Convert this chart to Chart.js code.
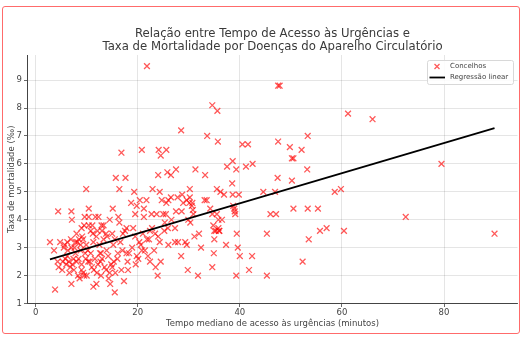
<!DOCTYPE html>
<html>
<head>
<meta charset="utf-8">
<script src="https://cdn.jsdelivr.net/npm/chart.js@4.4.1/dist/chart.umd.min.js"></script>
<style>
  html, body { margin: 0; padding: 0; background: #fff; }
  #wrap { position: relative; width: 525px; height: 337px; }
  #frame { position: absolute; left: 2px; top: 5.5px; width: 518px; height: 328px; box-sizing: border-box;
           border: 1.5px solid #ff6b6b; border-radius: 3px; pointer-events: none; }
</style>
</head>
<body>
<div id="wrap">
  <canvas id="chart" width="525" height="337"></canvas>
  <div id="frame"></div>
</div>
<script>
    // Tempo mediano de acesso (min) e taxa de mortalidade (‰) por concelho
    const tempo = [
        2.8, 3.6, 3.8, 4.4, 4.3, 4.8, 4.5, 5.3, 5.5, 5.2, 6.2, 7.0, 7.1, 7.0, 6.2, 6.5, 6.8, 7.4, 7.8, 8.15,
        8.5, 9.1, 9.3, 9.5, 9.6, 9.7, 9.5, 8.6, 9.0, 10.4, 10.4, 10.4, 10.3, 10.6, 10.8, 11.2, 11.1, 11.4, 11.3, 11.9,
        11.7, 12.3, 12.1, 12.6, 12.8, 12.7, 12.8, 12.9, 13.3, 13.3, 13.5, 13.8, 13.9, 14.3, 14.5, 14.5, 14.6, 15.1, 15.0, 15.2,
        15.3, 15.5, 15.6, 16.2, 16.4, 16.1, 17.1, 17.3, 17.8, 17.8, 18.0, 18.1, 18.3, 18.7, 19.1, 19.5, 19.6, 19.8, 19.8, 20.1,
        20.3, 20.6, 21.0, 21.2, 21.2, 21.4, 21.8, 22.2, 22.4, 22.7, 22.4, 22.8, 23.2, 23.4, 23.5, 23.7, 23.9, 24.0, 24.3, 24.5,
        25.0, 25.2, 25.3, 25.6, 25.9, 26.0, 26.6, 27.3, 27.3, 27.5, 27.9, 28.5, 28.6, 28.9, 29.3, 29.6, 29.8, 29.9, 30.1, 30.3,
        30.6, 30.9, 31.1, 31.8, 32.0, 32.4, 33.1, 33.5, 34.2, 34.6, 34.6, 34.9, 34.8, 35.0, 35.0, 35.5, 35.8, 35.8, 36.0, 36.5,
        37.3, 38.7, 38.9, 39.0, 39.3, 39.4, 39.6, 40.0, 41.8, 42.4, 45.3, 45.3, 46.0, 47.1, 50.5, 52.3, 53.3, 53.5, 55.3, 55.7,
        57.0, 60.4, 72.5, 89.9, 39.1, 35.3, 35.9,
        5.8, 6.0, 6.3, 6.6, 7.2, 7.5, 7.8, 8.0, 8.3, 8.4, 8.8, 9.0, 9.3, 9.8, 10.0, 10.2, 11.0, 11.6, 12.0, 12.2,
        13.0, 13.8, 14.2, 14.8, 7.0, 7.6, 8.8, 9.9, 11.3, 11.9, 12.5, 5.7, 6.9, 8.0, 9.0, 10.8, 13.0, 14.0, 15.5, 16.6,
        17.0, 16.0, 15.0, 16.8, 18.9, 19.5, 20.8, 22.0, 17.5,
        16.8, 15.7, 17.6, 9.9, 16.4,
        28.5, 33.6, 35.7, 20.8, 24.1, 25.6, 24.5, 24.0, 25.8, 26.5, 27.5, 31.3, 33.2, 19.3, 22.9, 24.3, 28.7, 30.2, 30.2, 20.4,
        21.7, 24.7, 26.5, 27.8, 29.6, 30.7, 26.0, 30.8, 25.5,
        40.5, 41.6, 47.5, 49.8, 52.1, 53.3, 50.2, 50.5, 37.5, 38.6, 39.3, 41.2, 42.5, 53.2, 38.5, 47.4, 50.2, 35.5, 36.2, 36.9,
        38.6, 39.8, 44.6, 46.9,
        21.8, 34.6, 35.6, 47.5, 47.8, 61.2, 66.0, 58.6, 59.8, 79.5
    ];
    const taxa = [
        3.2, 2.9, 1.5, 4.3, 2.5, 3.2, 2.3, 2.5, 3.0, 2.2, 3.2, 4.3, 4.0, 1.7, 2.7, 2.5, 2.3, 2.6, 3.2, 3.2,
        3.3, 3.4, 3.3, 3.8, 4.1, 2.8, 2.0, 1.9, 2.2, 4.4, 4.1, 3.8, 2.5, 2.5, 2.8, 3.5, 3.8, 2.2, 1.6, 1.7,
        4.1, 4.1, 3.6, 2.8, 2.8, 2.5, 2.0, 3.8, 3.8, 3.3, 2.3, 3.5, 2.9, 1.9, 4.0, 2.1, 1.7, 4.4, 3.5, 3.1,
        2.5, 1.4, 2.1, 4.1, 3.9, 2.8, 3.5, 1.8, 3.7, 2.8, 2.5, 2.2, 2.8, 4.6, 3.7, 4.2, 2.4, 4.5, 2.7, 2.6,
        3.2, 3.1, 3.5, 4.4, 4.1, 2.9, 3.3, 3.3, 3.6, 4.2, 2.5, 3.7, 2.9, 3.5, 2.3, 4.2, 2.0, 3.4, 3.2, 2.5,
        4.2, 3.6, 3.9, 4.6, 3.7, 3.1, 4.0, 3.2, 3.7, 4.3, 3.2, 2.7, 4.3, 4.6, 3.2, 3.1, 2.2, 4.0, 4.6, 3.9,
        4.5, 4.2, 3.4, 2.0, 3.5, 3.0, 4.7, 4.7, 4.4, 4.2, 2.3, 2.8, 3.8, 3.6, 3.3, 4.2, 4.0, 3.7, 3.6, 4.0,
        3.1, 4.5, 4.4, 4.3, 2.0, 3.5, 3.0, 2.7, 2.2, 2.7, 3.5, 2.0, 4.2, 4.2, 4.4, 2.5, 4.4, 3.3, 4.4, 3.6,
        3.7, 3.6, 4.1, 3.5, 4.2, 3.6, 3.6,
        2.6, 2.4, 2.9, 2.1, 2.4, 2.2, 2.8, 2.5, 2.0, 2.6, 2.9, 2.4, 2.1, 2.6, 2.0, 2.9, 2.3, 2.6, 2.1, 2.4,
        2.6, 2.2, 2.7, 2.4, 3.0, 3.0, 3.1, 3.1, 3.2, 3.4, 3.1, 3.1, 3.3, 3.5, 3.7, 3.6, 3.6, 3.4, 3.3, 3.2,
        2.9, 2.6, 2.3, 2.2, 3.0, 3.4, 2.9, 2.7, 3.6,
        6.4, 5.5, 5.5, 5.1, 5.1,
        7.2, 7.0, 6.8, 6.5, 6.5, 6.5, 6.3, 5.6, 5.7, 5.6, 5.8, 5.8, 5.6, 5.0, 5.1, 5.0, 4.9, 5.1, 4.8, 4.7,
        4.7, 4.7, 4.8, 4.8, 4.7, 4.6, 4.7, 4.35, 4.2,
        6.7, 6.7, 6.8, 6.6, 6.5, 7.0, 6.2, 6.2, 5.9, 6.1, 5.8, 5.9, 6.0, 5.8, 5.3, 5.5, 5.4, 5.1, 5.0, 4.9,
        4.9, 4.9, 5.0, 5.0,
        9.5, 8.1, 7.9, 8.8, 8.8, 7.8, 7.6, 5.0, 5.1, 6.0
    ];

    // Recta de regressão (extremos)
    const regTempo = [2.8, 89.9];
    const regTaxa = [2.58, 7.28];

    const xTicks = [0, 20, 40, 60, 80];
    const yTicks = [1, 2, 3, 4, 5, 6, 7, 8, 9];

    const titleLines = [
        'Relação entre Tempo de Acesso às Urgências e',
        'Taxa de Mortalidade por Doenças do Aparelho Circulatório'
    ];

    const fontFamily = '"DejaVu Sans", sans-serif';
    const pointColor = 'rgba(255, 0, 0, 0.65)';

    const points = tempo.map((t, i) => ({ x: t, y: taxa[i] }));
    const regLine = regTempo.map((t, i) => ({ x: t, y: regTaxa[i] }));

    // Title + legend inside the plot, drawn like matplotlib does
    const decorations = {
        id: 'decorations',
        afterDraw(chart) {
            const ctx = chart.ctx;
            const area = chart.chartArea;
            ctx.save();

            // title
            ctx.fillStyle = '#3a3a3a';
            ctx.font = '11.7px ' + fontFamily;
            ctx.textAlign = 'center';
            ctx.textBaseline = 'middle';
            const cx = (area.left + area.right) / 2;
            ctx.fillText(titleLines[0], cx, 33.5);
            ctx.fillText(titleLines[1], cx, 47);

            // legend box
            const bw = 86, bh = 24;
            const bx = area.right - 4.5 - bw, by = area.top + 5;
            ctx.fillStyle = 'rgba(255,255,255,0.85)';
            ctx.strokeStyle = '#d8d8d8';
            ctx.lineWidth = 1;
            ctx.beginPath();
            ctx.roundRect(bx + 0.5, by + 0.5, bw, bh, 2);
            ctx.fill();
            ctx.stroke();

            // marker
            const mx = bx + 10, my1 = by + 6.5, my2 = by + 17.5;
            ctx.strokeStyle = pointColor;
            ctx.lineWidth = 1.3;
            ctx.beginPath();
            ctx.moveTo(mx - 2.5, my1 - 2.5); ctx.lineTo(mx + 2.5, my1 + 2.5);
            ctx.moveTo(mx - 2.5, my1 + 2.5); ctx.lineTo(mx + 2.5, my1 - 2.5);
            ctx.stroke();

            ctx.strokeStyle = '#000';
            ctx.lineWidth = 1.8;
            ctx.beginPath();
            ctx.moveTo(bx + 2.5, my2); ctx.lineTo(bx + 18, my2);
            ctx.stroke();

            ctx.fillStyle = '#444';
            ctx.font = '7px ' + fontFamily;
            ctx.textAlign = 'left';
            ctx.fillText('Concelhos', bx + 23, my1);
            ctx.fillText('Regressão linear', bx + 23, my2);
            ctx.restore();
        }
    };

    const ctx = document.getElementById('chart').getContext('2d');

    new Chart(ctx, {
        type: 'scatter',
        data: {
            datasets: [
                {
                    type: 'line',
                    label: 'Regressão linear',
                    data: regLine,
                    borderColor: '#000',
                    borderWidth: 1.8,
                    pointRadius: 0,
                    fill: false,
                    order: 0
                },
                {
                    label: 'Concelhos',
                    data: points,
                    pointStyle: 'crossRot',
                    pointRadius: 4.1,
                    pointBorderWidth: 1.3,
                    borderColor: pointColor,
                    backgroundColor: pointColor,
                    order: 1
                }
            ]
        },
        options: {
            responsive: false,
            animation: false,
            devicePixelRatio: 1,
            layout: { padding: { top: 55, right: 7.5, left: 0, bottom: 0 } },
            plugins: {
                legend: { display: false },
                title: { display: false },
                tooltip: { enabled: false }
            },
            scales: {
                x: {
                    type: 'linear',
                    min: -1.6,
                    max: 94.4,
                    afterBuildTicks: s => { s.ticks = xTicks.map(v => ({ value: v })); },
                    afterFit: s => { s.height = 33.5; },
                    grid: { color: 'rgba(0,0,0,0.13)', borderDash: [1.5, 1.5], lineWidth: 0.8,
                            tickLength: 3.5, tickColor: '#444', tickBorderDash: [], tickWidth: 0.8 },
                    border: { display: true, color: '#444', width: 1 },
                    ticks: { color: '#444', font: { family: fontFamily, size: 8.5 }, padding: 1, maxRotation: 0 },
                    title: {
                        display: true,
                        text: 'Tempo mediano de acesso às urgências (minutos)',
                        color: '#444',
                        font: { family: fontFamily, size: 8.5 },
                        padding: { top: 0, bottom: 8.3 }
                    }
                },
                y: {
                    type: 'linear',
                    min: 1.0,
                    max: 9.9,
                    afterBuildTicks: s => { s.ticks = yTicks.map(v => ({ value: v })); },
                    afterFit: s => { s.width = 27.5; },
                    grid: { color: 'rgba(0,0,0,0.13)', borderDash: [1.5, 1.5], lineWidth: 0.8,
                            tickLength: 3.5, tickColor: '#444', tickBorderDash: [], tickWidth: 0.8 },
                    border: { display: true, color: '#444', width: 1 },
                    ticks: { color: '#444', font: { family: fontFamily, size: 8.5 }, padding: 2, autoSkip: false },
                    title: {
                        display: true,
                        text: 'Taxa de mortalidade (‰)',
                        color: '#444',
                        font: { family: fontFamily, size: 8.5 },
                        padding: { top: 6.4, bottom: 0 }
                    }
                }
            }
        },
        plugins: [decorations]
    });
</script>
</body>
</html>
